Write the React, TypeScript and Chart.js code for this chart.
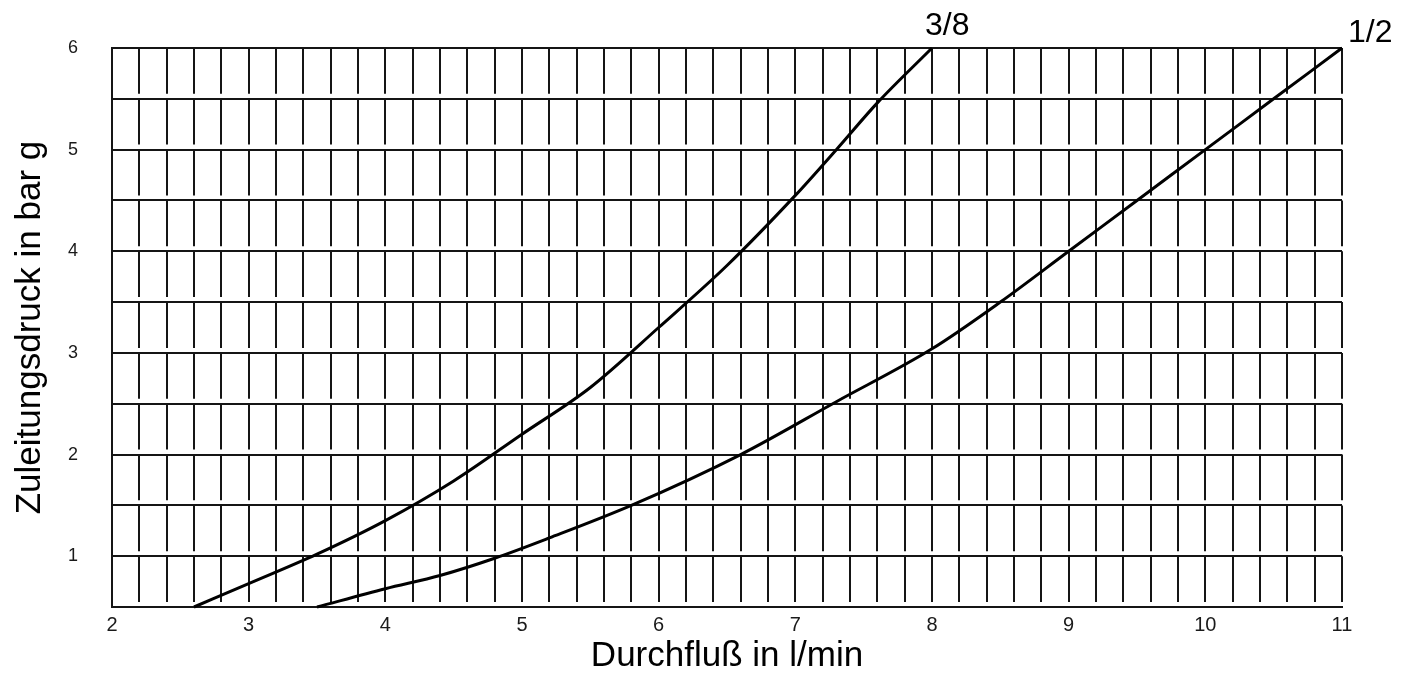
import React, { useEffect, useRef } from 'react';
import { Chart, registerables } from 'chart.js';

Chart.register(...registerables);

// Flow (l/min) and inlet pressure (bar g)
const flow38 = [2.6, 3.0, 3.5, 4.0, 4.5, 5.0, 5.5, 6.0, 6.5, 7.0, 7.3, 7.6, 8.0];
const pressure38 = [0.5, 0.73, 1.02, 1.35, 1.74, 2.2, 2.66, 3.25, 3.86, 4.55, 5.0, 5.46, 6.0];
const flow12 = [3.5, 4.0, 4.4, 4.8, 5.2, 5.8, 6.6, 7.3, 8.0, 8.5, 9.0, 9.5, 10.0, 10.5, 11.0];
const pressure12 = [0.5, 0.68, 0.81, 0.98, 1.18, 1.5, 2.0, 2.52, 3.04, 3.5, 4.0, 4.5, 5.0, 5.5, 6.0];
const seriesNames = ['3/8', '1/2'];
const xTickLabels = ['2', '3', '4', '5', '6', '7', '8', '9', '10', '11'];
const yTickLabels = ['1', '2', '3', '4', '5', '6'];
const xTitle = 'Durchfluß in l/min';
const yTitle = 'Zuleitungsdruck in bar g';

const FONT = '"Liberation Sans", Arial, Helvetica, sans-serif';
const GRID = '#151515';

const endLabels = {
  id: 'endLabels',
  afterDatasetsDraw(chart: any) {
    const { ctx, scales } = chart;
    const offsets = [
      [-7, -13],
      [6, -6],
    ];
    ctx.save();
    ctx.font = `32px ${FONT}`;
    ctx.fillStyle = '#000';
    ctx.textAlign = 'left';
    ctx.textBaseline = 'alphabetic';
    chart.data.datasets.forEach((ds: any, i: number) => {
      const last = ds.data[ds.data.length - 1];
      const px = scales.x.getPixelForValue(last.x);
      const py = scales.y.getPixelForValue(last.y);
      ctx.fillText(ds.label, px + offsets[i][0], py + offsets[i][1]);
    });
    ctx.restore();
  },
};

export default function App() {
  const ref = useRef<HTMLCanvasElement | null>(null);

  useEffect(() => {
    if (!ref.current) return;
    Chart.defaults.font.family = FONT;
    const toPts = (xs: number[], ys: number[]) => xs.map((x, i) => ({ x, y: ys[i] }));
    const lineStyle = {
      borderColor: '#000',
      borderWidth: 3,
      pointRadius: 0,
      cubicInterpolationMode: 'monotone',
      fill: false,
      clip: false,
    };
    const chart = new Chart(ref.current, {
      type: 'line',
      data: {
        datasets: [
          { label: seriesNames[0], data: toPts(flow38, pressure38), ...lineStyle },
          { label: seriesNames[1], data: toPts(flow12, pressure12), ...lineStyle },
        ],
      },
      options: {
        animation: false,
        responsive: true,
        maintainAspectRatio: false,
        layout: { padding: { left: 0, right: 70, top: 48, bottom: 0 } },
        plugins: { legend: { display: false }, tooltip: { enabled: false } },
        scales: {
          x: {
            type: 'linear',
            min: 2,
            max: 11,
            afterFit: (s: any) => {
              s.height = 70;
            },
            ticks: {
              stepSize: 0.2,
              autoSkip: false,
              maxRotation: 0,
              padding: 6,
              color: '#1a1a1a',
              font: { size: 20 },
              callback: (v: any) => {
                const r = Math.round(Number(v));
                return Math.abs(Number(v) - r) < 1e-6 && xTickLabels.includes(String(r)) ? String(r) : '';
              },
            },
            grid: { color: GRID, lineWidth: 2, drawTicks: false },
            border: { color: GRID, width: 2, dash: [45.8, 5.02] },
            title: {
              display: true,
              text: xTitle,
              font: { size: 35 },
              color: '#000',
              padding: { top: 0, bottom: 0 },
            },
          },
          y: {
            type: 'linear',
            min: 0.5,
            max: 6,
            afterFit: (s: any) => {
              s.width = 112;
            },
            ticks: {
              stepSize: 0.5,
              autoSkip: false,
              padding: 34,
              color: '#1a1a1a',
              font: { size: 18 },
              callback: (v: any) => {
                const r = Math.round(Number(v));
                return Math.abs(Number(v) - r) < 1e-6 && yTickLabels.includes(String(r)) ? String(r) : '';
              },
            },
            grid: { color: GRID, lineWidth: 2, drawTicks: false },
            border: { color: GRID, width: 2 },
            title: {
              display: true,
              text: yTitle,
              font: { size: 35 },
              color: '#000',
              padding: { top: 9, bottom: 0 },
            },
          },
        },
      },
      plugins: [endLabels],
    } as any);
    return () => chart.destroy();
  }, []);

  return (
    <div style={{ position: 'fixed', left: 0, top: 0, width: 1412, height: 677, background: '#fff' }}>
      <canvas ref={ref} />
    </div>
  );
}
